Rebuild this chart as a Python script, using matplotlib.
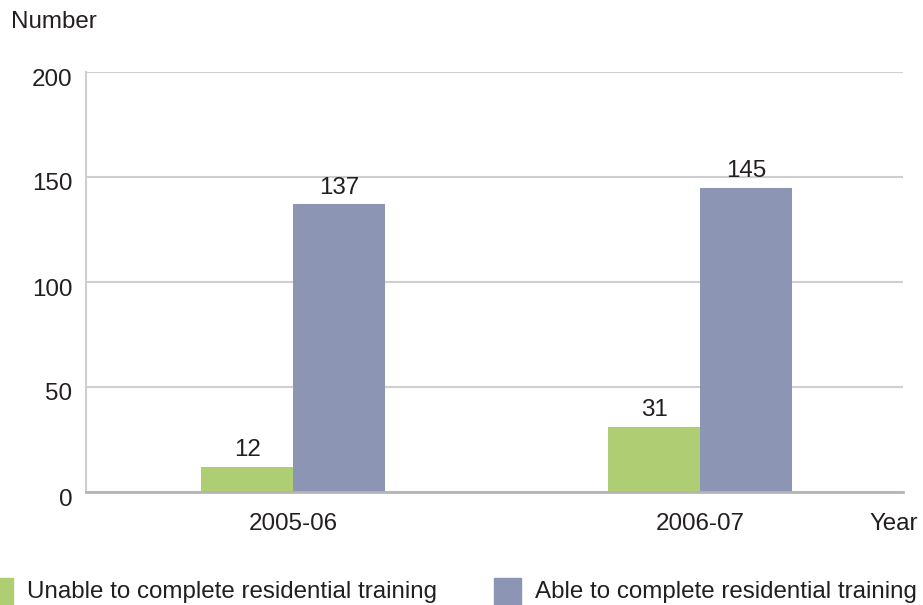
import matplotlib.pyplot as plt
import matplotlib.transforms as mtransforms
from matplotlib.patches import Rectangle

years = ["2005-06", "2006-07"]
unable = [12, 31]
able = [137, 145]
series_labels = ["Unable to complete residential training",
                 "Able to complete residential training"]
colors = ["#afcd72", "#8c96b4"]
yticks = [0, 50, 100, 150, 200]

plt.rcParams["font.family"] = ["Liberation Sans", "DejaVu Sans"]
fs = 17.4
txt_color = "#231f20"

fig = plt.figure(figsize=(9.23, 6.05), dpi=100)
ax = fig.add_axes([86 / 923, 113 / 605, 817 / 923, 420 / 605])

x = list(range(len(years)))
w = 0.226
b1 = ax.bar([i - w / 2 for i in x], unable, width=w, color=colors[0], zorder=3)
b2 = ax.bar([i + w / 2 for i in x], able, width=w, color=colors[1], zorder=3)

for bars, vals in ((b1, unable), (b2, able)):
    for r, v in zip(bars, vals):
        ax.annotate(str(v), (r.get_x() + r.get_width() / 2, v),
                    xytext=(0, 4), textcoords="offset points",
                    ha="center", va="bottom", fontsize=fs, color=txt_color)

ax.set_xlim(-0.509, 1.499)
ax.set_ylim(0, 200)
ax.set_yticks(yticks)
ax.set_yticklabels([str(t) for t in yticks], fontsize=fs, color=txt_color)
ax.set_xticks(x)
ax.set_xticklabels(years, fontsize=fs, color=txt_color)
ax.tick_params(axis="both", length=0)
ax.tick_params(axis="y", pad=10)
ax.tick_params(axis="x", pad=15)

offset = mtransforms.ScaledTranslation(0, -5 / 100, fig.dpi_scale_trans)
for lbl in ax.get_yticklabels():
    lbl.set_transform(lbl.get_transform() + offset)

ax.grid(axis="y", color="#cfcfcf", linewidth=1.5, zorder=0)
for s in ("top", "right"):
    ax.spines[s].set_visible(False)
ax.spines["left"].set_color("#cfcfcf")
ax.spines["left"].set_linewidth(1.5)
ax.spines["bottom"].set_color("#b5b5b5")
ax.spines["bottom"].set_linewidth(2)
ax.spines["bottom"].set_zorder(4)

fig.text(11 / 923, 1 - 22 / 605, "Number", fontsize=fs, va="center",
         ha="left", color=txt_color)
fig.text(918 / 923, 1 - 524 / 605, "Year", fontsize=fs, va="center",
         ha="right", color=txt_color)

# legend
leg_x = [-14, 494]
for lx, lab, c in zip(leg_x, series_labels, colors):
    fig.patches.append(Rectangle((lx / 923, 0), 27 / 923, 27 / 605,
                                 transform=fig.transFigure, color=c))
    fig.text((lx + 41) / 923, 1 - 592 / 605, lab, fontsize=fs,
             va="center", ha="left", color=txt_color)

fig.savefig("out.png", dpi=100)
